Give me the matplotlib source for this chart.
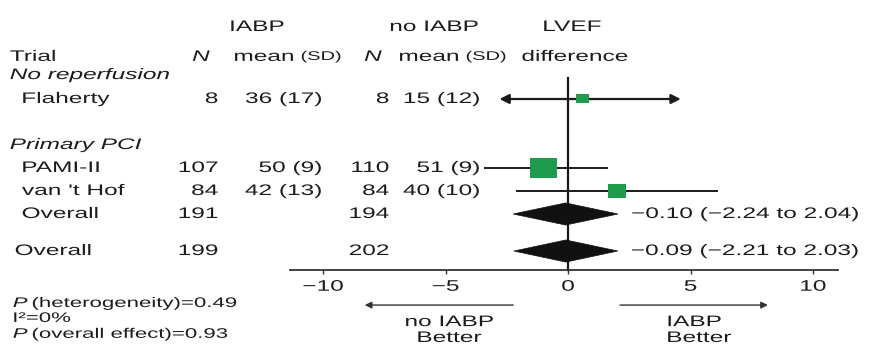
import numpy as np
import matplotlib
matplotlib.use("Agg")
import matplotlib.pyplot as plt
from matplotlib.patches import Rectangle, Polygon
from matplotlib.patheffects import AbstractPathEffect
from matplotlib.transforms import Affine2D, blended_transform_factory

# ---- data -------------------------------------------------------------
trials = ["Flaherty", "PAMI-II", "van 't Hof"]
n_iabp = [8, 107, 84]
mean_iabp = [36, 50, 42]
sd_iabp = [17, 9, 13]
n_ctrl = [8, 110, 84]
mean_ctrl = [15, 51, 40]
sd_ctrl = [12, 9, 10]
lvef_diff = [0.6, -1.0, 2.0]
lvef_lo = [-2.8, -3.4, -2.1]
lvef_hi = [4.6, 1.6, 6.1]
ci_off_scale = [True, False, False]

pooled_labels = ["Overall", "Overall"]
pooled_n_iabp = [191, 199]
pooled_n_ctrl = [194, 202]
pooled_est = [-0.10, -0.09]
pooled_lo = [-2.24, -2.21]
pooled_hi = [2.04, 2.03]

x_ticks = [-10, -5, 0, 5, 10]
stats_lines = [("P", "(heterogeneity)=0.49"), ("", "I\u00b2=0%"), ("P", "(overall effect)=0.93")]

# ---- layout -----------------------------------------------------------
W, H = 875, 354
TXT = "#1c1c1c"
GREEN = "#1f9b4e"
FONT = "Liberation Sans"
STRETCH = 1.6

plt.rcParams["font.family"] = [FONT, "DejaVu Sans"]


class HStretch(AbstractPathEffect):
    """Widen glyph outlines horizontally about the text's anchor edge."""

    def __init__(self, factor, anchor="left"):
        super().__init__()
        self.factor = factor
        self.anchor = anchor

    def draw_path(self, renderer, gc, tpath, affine, rgbFace=None):
        ext = tpath.get_extents(affine)
        x0 = {"left": ext.x0, "center": 0.5 * (ext.x0 + ext.x1), "right": ext.x1}[self.anchor]
        aff = affine + Affine2D().translate(-x0, 0).scale(self.factor, 1.0).translate(x0, 0)
        renderer.draw_path(gc, tpath, aff, rgbFace)


fig = plt.figure(figsize=(W / 100, H / 100), dpi=100)
ax = fig.add_axes([290 / W, 84 / H, 548 / W, 270 / H])
ax.set_xlim(-11.35, 11.02)
ax.set_ylim(7.435, -4.304)
for s in ("left", "right", "top"):
    ax.spines[s].set_visible(False)
ax.spines["bottom"].set_linewidth(1.3)
ax.spines["bottom"].set_color("#333333")
ax.set_yticks([])
ax.set_xticks(x_ticks)
ax.tick_params(axis="x", direction="out", length=3, width=1.0, color="#333333",
               labelsize=11, labelcolor=TXT, pad=4)
for lab in ax.get_xticklabels():
    lab.set_path_effects([HStretch(STRETCH, "center")])

colT = blended_transform_factory(fig.transFigure, ax.transData)


def txt(xpx, row, s, ha="left", size=11, style="normal", trans=None, x=None):
    t = ax.text(xpx / W if x is None else x, row, s, ha=ha, va="center", fontsize=size,
                fontstyle=style, color=TXT, transform=colT if trans is None else trans,
                clip_on=False)
    t.set_path_effects([HStretch(STRETCH, ha)])
    return t


# row positions
r_head1, r_head2, r_noreperf = -3.13, -1.83, -1.04
trial_rows = [0.0, 3.0, 4.0]
r_pci = 2.0
pooled_rows = [5.0, 6.61]

# column headers
txt(257, r_head1, "IABP", ha="center")
txt(434, r_head1, "no IABP", ha="center")
txt(572, r_head1, "LVEF", ha="center")
txt(10, r_head2, "Trial")
txt(201, r_head2, "N", ha="center", style="italic")
txt(234, r_head2, "mean")
txt(301, r_head2, "(SD)", size=9)
txt(373, r_head2, "N", ha="center", style="italic")
txt(399, r_head2, "mean")
txt(466, r_head2, "(SD)", size=9)
txt(575, r_head2, "difference", ha="center")

# subgroup headings
txt(10, r_noreperf, "No reperfusion", style="italic")
txt(10, r_pci, "Primary PCI", style="italic")

# zero line
ax.plot([0, 0], [-0.91, 7.435], color="#1a1a1a", lw=1.6, zorder=2, clip_on=False)

# trial rows
var = [si ** 2 / ni + sc ** 2 / nc for ni, si, nc, sc in zip(n_iabp, sd_iabp, n_ctrl, sd_ctrl)]
wts = np.array([1.0 / v for v in var])
wts = wts / wts.sum()
px_x = ax.transData.transform((1, 0))[0] - ax.transData.transform((0, 0))[0]
px_y = abs(ax.transData.transform((0, 1))[1] - ax.transData.transform((0, 0))[1])
for i, name in enumerate(trials):
    r = trial_rows[i]
    txt(22, r, name)
    txt(218, r, str(n_iabp[i]), ha="right")
    txt(322, r, f"{mean_iabp[i]} ({sd_iabp[i]})", ha="right")
    txt(389, r, str(n_ctrl[i]), ha="right")
    txt(480, r, f"{mean_ctrl[i]} ({sd_ctrl[i]})", ha="right")
    if ci_off_scale[i]:
        ax.annotate("", xy=(lvef_hi[i], r), xytext=(lvef_lo[i], r),
                    arrowprops=dict(arrowstyle="<|-|>", color="#1a1a1a", lw=1.6,
                                    mutation_scale=14, shrinkA=0, shrinkB=0), zorder=3)
    else:
        ax.plot([lvef_lo[i], lvef_hi[i]], [r, r], color="#1a1a1a", lw=1.4, zorder=3)
    h_px = max(23.4 * np.sqrt(wts[i]), 9.0)
    w_px = 1.42 * h_px
    ax.add_patch(Rectangle((lvef_diff[i] - w_px / px_x / 2, r - h_px / px_y / 2),
                           w_px / px_x, h_px / px_y, facecolor=GREEN, edgecolor="none", zorder=4))

# pooled rows
for j, r in enumerate(pooled_rows):
    txt(22 if j == 0 else 15, r, pooled_labels[j])
    txt(218, r, str(pooled_n_iabp[j]), ha="right")
    txt(389, r, str(pooled_n_ctrl[j]), ha="right")
    hh = 0.48
    ax.add_patch(Polygon([(pooled_lo[j], r), (pooled_est[j], r - hh), (pooled_hi[j], r),
                          (pooled_est[j], r + hh)], closed=True, facecolor="#111111",
                         edgecolor="#111111", lw=0.5, zorder=4))
    lab = f"{pooled_est[j]:.2f} ({pooled_lo[j]:.2f} to {pooled_hi[j]:.2f})".replace("-", "\u2212")
    txt(0, r, lab, trans=ax.transData, x=pooled_hi[j] + 0.55)

# direction arrows under the axis
r_arrow, r_lab1, r_lab2 = 8.96, 9.70, 10.39
ax.annotate("", xy=(-8.3, r_arrow), xytext=(-2.24, r_arrow), annotation_clip=False,
            arrowprops=dict(arrowstyle="-|>", color="#333333", lw=1.0, mutation_scale=10,
                            shrinkA=0, shrinkB=0))
ax.annotate("", xy=(8.16, r_arrow), xytext=(2.12, r_arrow), annotation_clip=False,
            arrowprops=dict(arrowstyle="-|>", color="#333333", lw=1.0, mutation_scale=10,
                            shrinkA=0, shrinkB=0))
txt(0, r_lab1, "no IABP", ha="center", trans=ax.transData, x=-4.85)
txt(0, r_lab2, "Better", ha="center", trans=ax.transData, x=-4.85)
txt(0, r_lab1, "IABP", ha="center", trans=ax.transData, x=5.15)
txt(0, r_lab2, "Better", ha="center", trans=ax.transData, x=5.35)

# heterogeneity statistics
for k, (ital, rest) in enumerate(stats_lines):
    r = [8.87, 9.52, 10.21][k]
    if ital:
        txt(13, r, ital, size=10, style="italic")
        txt(32, r, rest, size=10)
    else:
        txt(13, r, rest, size=10)

fig.savefig("out.png", dpi=100)
